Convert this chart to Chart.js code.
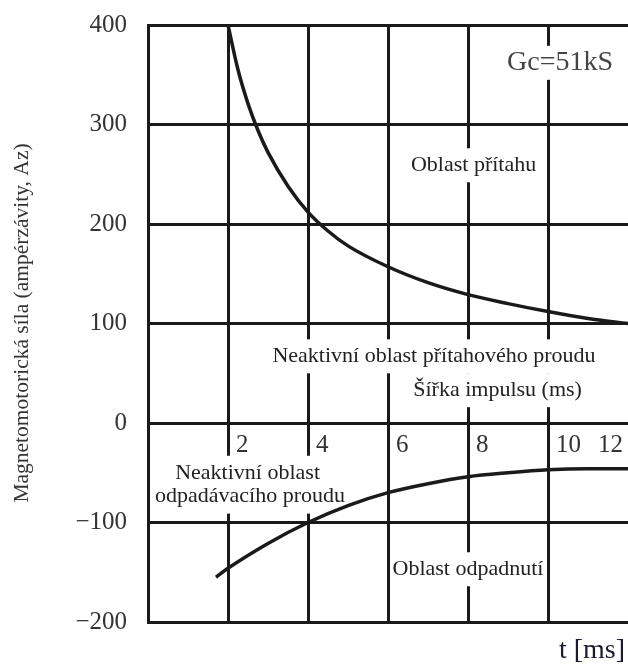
<!DOCTYPE html>
<html>
<head>
<meta charset="utf-8">
<script src="https://cdn.jsdelivr.net/npm/chart.js@4.4.1/dist/chart.umd.min.js"></script>
<style>
  html, body { margin: 0; padding: 0; background: #fff; }
  #wrap { width: 628px; height: 664px; }
</style>
</head>
<body>
<div id="wrap"><canvas id="c" width="628" height="664"></canvas></div>
<script>
// ---- data ----
const xTickValues = [0, 2, 4, 6, 8, 10, 12];
const xTickLabels = [2, 4, 6, 8, 10, 12];
const yTickValues = [-200, -100, 0, 100, 200, 300, 400];

// pull-in curve (upper)
const pullT   = [2, 2.25, 2.5, 2.75, 3, 3.5, 4, 4.5, 5, 6, 7, 8, 9, 10, 11, 12];
const pullMmf = [400, 355, 321, 294, 272, 238, 212, 193, 178, 157, 141, 129, 120, 112, 105, 100];

// drop-out curve (lower)
const dropT   = [1.7, 2, 3, 4, 5, 6, 7, 8, 9, 10, 11, 12];
const dropMmf = [-155, -146, -121, -100, -83, -70, -61, -54, -50, -47, -46, -46];

const SERIF = '"Liberation Serif", "Times New Roman", serif';
const INK = '#1a1a1a';

// text labels inside the plot (placed in data units)
const notes = [
  { text: 'Gc=51kS', x: 10.3, y: 362, size: 28, color: '#444' },
  { text: 'Oblast přítahu', x: 8.14, y: 259, size: 22, color: '#222' },
  { text: 'Neaktivní oblast přítahového proudu', x: 7.15, y: 67, size: 22, color: '#222' },
  { text: 'Šířka impulsu (ms)', x: 8.74, y: 33, size: 22, color: '#222' },
  { text: 'Neaktivní oblast', x: 2.49, y: -50, size: 22, color: '#222' },
  { text: 'odpadávacího proudu', x: 2.55, y: -74, size: 22, color: '#222' },
  { text: 'Oblast odpadnutí', x: 8.0, y: -147, size: 22, color: '#222' }
];

function pts(xs, ys) {
  return xs.map((x, i) => ({ x: x, y: ys[i] }));
}

const textPlugin = {
  id: 'texts',
  beforeDatasetsDraw(chart) {
    const ctx = chart.ctx;
    const xs = chart.scales.x, ys = chart.scales.y;
    ctx.save();
    ctx.textAlign = 'center';
    ctx.textBaseline = 'middle';

    // white boxes behind the labels (they cut the grid lines)
    notes.forEach(n => {
      ctx.font = n.size + 'px ' + SERIF;
      const px = xs.getPixelForValue(n.x), py = ys.getPixelForValue(n.y);
      const w = ctx.measureText(n.text).width;
      ctx.fillStyle = '#fff';
      ctx.fillRect(px - w / 2 - 2, py - 17, w + 4, 34);
    });
    notes.forEach(n => {
      ctx.font = n.size + 'px ' + SERIF;
      ctx.fillStyle = n.color;
      ctx.fillText(n.text, xs.getPixelForValue(n.x), ys.getPixelForValue(n.y));
    });

    // x tick labels sit just under the zero line, right of each grid line
    ctx.font = '25px ' + SERIF;
    ctx.fillStyle = '#333';
    const yl = ys.getPixelForValue(0) + 22;
    xTickLabels.forEach(v => {
      const px = xs.getPixelForValue(v);
      if (v === 12) {
        ctx.textAlign = 'right';
        ctx.fillText(String(v), px - 5, yl);
      } else {
        ctx.textAlign = 'left';
        ctx.fillText(String(v), px + 8, yl);
      }
    });
    ctx.restore();
  },
  afterDraw(chart) {
    const ctx = chart.ctx;
    ctx.save();
    // y axis title
    ctx.translate(22, 323);
    ctx.rotate(-Math.PI / 2);
    ctx.font = '21.5px ' + SERIF;
    ctx.fillStyle = '#333';
    ctx.textAlign = 'center';
    ctx.textBaseline = 'middle';
    ctx.fillText('Magnetomotorická síla (ampérzávity, Az)', 0, 0);
    ctx.restore();

    ctx.save();
    ctx.font = '28px ' + SERIF;
    ctx.fillStyle = '#1b1b2e';
    ctx.textAlign = 'right';
    ctx.textBaseline = 'alphabetic';
    ctx.fillText('t [ms]', 625, 658);
    ctx.restore();
  }
};

new Chart(document.getElementById('c'), {
  type: 'line',
  data: {
    datasets: [
      {
        data: pts(pullT, pullMmf),
        borderColor: INK,
        borderWidth: 3.5,
        pointRadius: 0,
        cubicInterpolationMode: 'monotone',
        fill: false
      },
      {
        data: pts(dropT, dropMmf),
        borderColor: INK,
        borderWidth: 3.5,
        pointRadius: 0,
        cubicInterpolationMode: 'monotone',
        fill: false
      }
    ]
  },
  options: {
    responsive: false,
    animation: false,
    devicePixelRatio: 1,
    layout: { padding: { top: 25, bottom: 42, left: 0, right: 0 } },
    plugins: { legend: { display: false }, tooltip: { enabled: false } },
    scales: {
      x: {
        type: 'linear',
        min: 0,
        max: 12,
        afterBuildTicks: s => { s.ticks = xTickValues.map(v => ({ value: v })); },
        afterFit: s => { s.height = 0; s.paddingLeft = 0; s.paddingRight = 0; },
        ticks: { display: false },
        grid: {
          drawTicks: false,
          lineWidth: 3,
          color: c => (c.tick && c.tick.value === 12) ? 'rgba(0,0,0,0)' : INK
        },
        border: { display: true, color: INK, width: 3 }
      },
      y: {
        min: -200,
        max: 400,
        afterBuildTicks: s => { s.ticks = yTickValues.map(v => ({ value: v })); },
        afterFit: s => { s.width = 148; s.paddingTop = 0; s.paddingBottom = 0; },
        ticks: {
          padding: 21,
          color: '#333',
          font: { family: SERIF, size: 25 },
          callback: v => v < 0 ? '\u2212' + Math.abs(v) : String(v)
        },
        grid: { drawTicks: false, lineWidth: 3, color: INK },
        border: { display: true, color: INK, width: 3 }
      }
    }
  },
  plugins: [textPlugin]
});
</script>
</body>
</html>
